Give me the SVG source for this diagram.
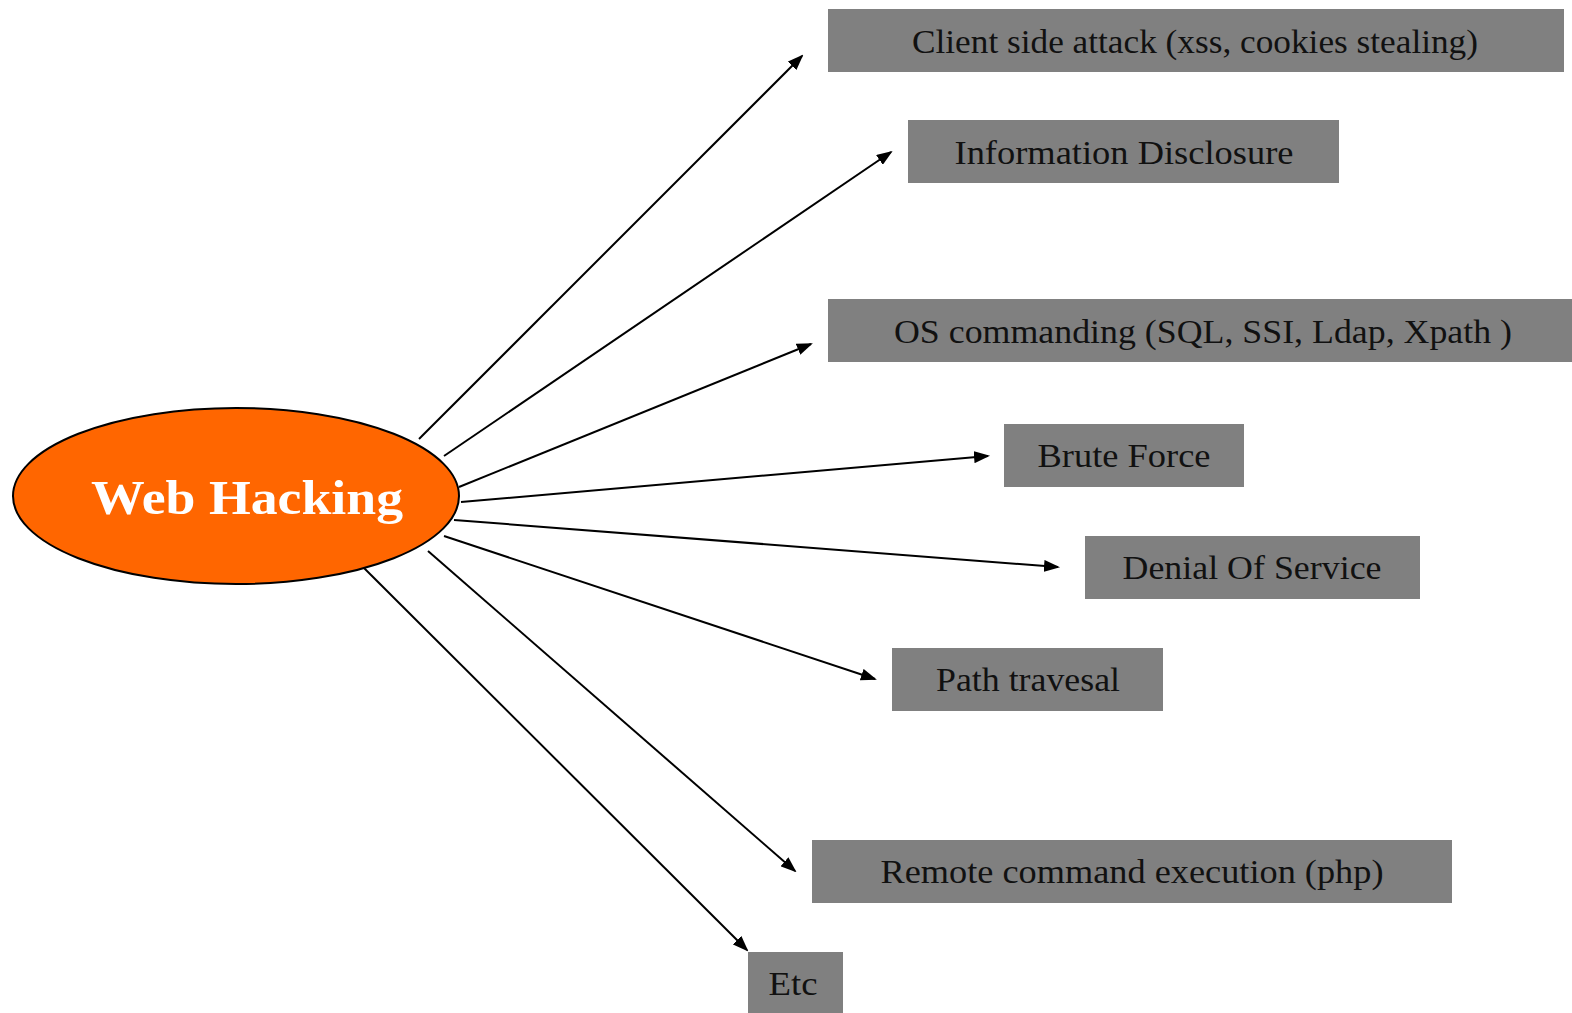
<svg xmlns="http://www.w3.org/2000/svg" width="1572" height="1013" viewBox="0 0 1572 1013">
<style>
.box{fill:#808080;}
.lbl{font-family:"Liberation Serif",serif;font-size:34px;fill:#111;text-anchor:middle;}
.conn line{stroke:#000;stroke-width:2;marker-end:url(#ah);}
</style>
<defs>
<marker id="ah" markerWidth="16" markerHeight="12" refX="14" refY="6" orient="auto" markerUnits="userSpaceOnUse">
<path d="M0,0 L16,6 L0,12 z" fill="#000"/>
</marker>
</defs>
<rect width="1572" height="1013" fill="#fff"/>
<g id="n0">
<ellipse cx="236" cy="496" rx="223" ry="88" fill="#ff6600" stroke="#000" stroke-width="2"/>
<text x="247" y="514" font-family="Liberation Serif,serif" font-size="48" font-weight="bold" fill="#fff" text-anchor="middle" textLength="312" lengthAdjust="spacingAndGlyphs">Web Hacking</text>
</g>
<g id="n1"><rect class="box" x="828" y="9" width="736" height="63"/><text class="lbl" x="1195" y="53" textLength="566" lengthAdjust="spacingAndGlyphs">Client side attack (xss, cookies stealing)</text></g>
<g id="n2"><rect class="box" x="908" y="120" width="431" height="63"/><text class="lbl" x="1124" y="164" textLength="339" lengthAdjust="spacingAndGlyphs">Information Disclosure</text></g>
<g id="n3"><rect class="box" x="828" y="299" width="744" height="63"/><text class="lbl" x="1203" y="343" textLength="618" lengthAdjust="spacingAndGlyphs">OS commanding (SQL, SSI, Ldap, Xpath )</text></g>
<g id="n4"><rect class="box" x="1004" y="424" width="240" height="63"/><text class="lbl" x="1124" y="467" textLength="173" lengthAdjust="spacingAndGlyphs">Brute Force</text></g>
<g id="n5"><rect class="box" x="1085" y="536" width="335" height="63"/><text class="lbl" x="1252" y="579" textLength="259" lengthAdjust="spacingAndGlyphs">Denial Of Service</text></g>
<g id="n6"><rect class="box" x="892" y="648" width="271" height="63"/><text class="lbl" x="1028" y="691" textLength="184" lengthAdjust="spacingAndGlyphs">Path travesal</text></g>
<g id="n7"><rect class="box" x="812" y="840" width="640" height="63"/><text class="lbl" x="1132" y="883" textLength="503" lengthAdjust="spacingAndGlyphs">Remote command execution (php)</text></g>
<g id="n8"><rect class="box" x="748" y="952" width="95" height="61"/><text class="lbl" x="793" y="995" textLength="49" lengthAdjust="spacingAndGlyphs">Etc</text></g>
<g class="conn" id="connectors">
<line x1="419" y1="439" x2="802" y2="56"/>
<line x1="444" y1="456" x2="891" y2="152"/>
<line x1="459" y1="487" x2="811" y2="344"/>
<line x1="461" y1="502" x2="988" y2="456"/>
<line x1="454" y1="520" x2="1058" y2="567"/>
<line x1="444" y1="536" x2="875" y2="679"/>
<line x1="428" y1="551" x2="795" y2="871"/>
<line x1="364" y1="568" x2="747" y2="950"/>
</g>
</svg>
